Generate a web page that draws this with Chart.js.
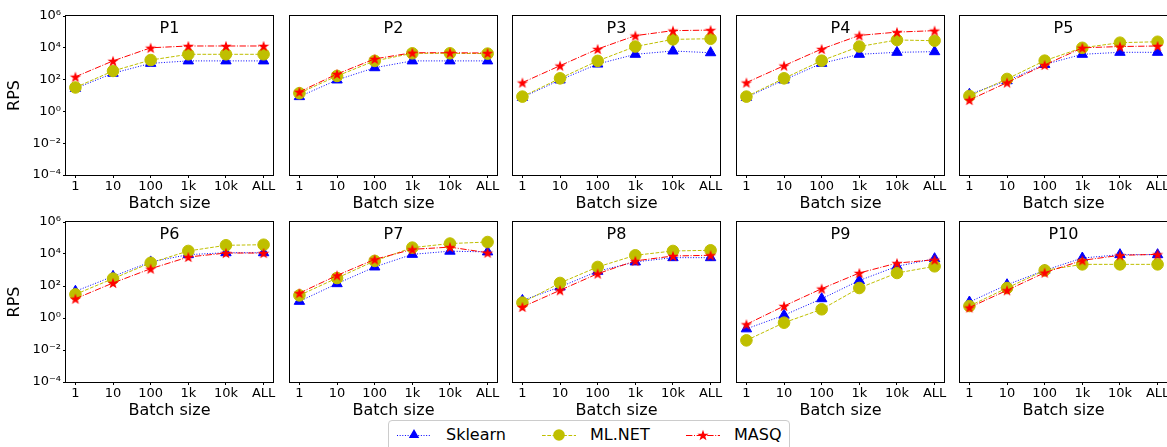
<!DOCTYPE html>
<html><head><meta charset="utf-8">
<script src="https://cdn.jsdelivr.net/npm/chart.js@4"></script>
<style>
html,body{margin:0;padding:0;background:#fff;}
body{width:1167px;height:447px;position:relative;overflow:hidden;font-family:"DejaVu Sans",sans-serif;}
canvas.p{position:absolute;}
#legend{position:absolute;left:388px;top:420px;width:402px;height:34px;border:1px solid #cccccc;border-radius:4px;background:#fff;box-sizing:border-box;}
#legend canvas{position:absolute;top:4px;}
#legend span{position:absolute;top:4px;font-size:16px;line-height:20px;color:#000;white-space:nowrap;}
</style></head><body>
<div id="legend"></div>
<script>
// ---- data ----
const batchLabels = ['1','10','100','1k','10k','ALL'];
const panelTitles = ['P1','P2','P3','P4','P5','P6','P7','P8','P9','P10'];
const yTickExponents = [-4,-2,0,2,4,6];
const seriesNames = ['Sklearn','ML.NET','MASQ'];
const sklearnRPS = [
  [28,250,1050,1500,1500,1500],
  [8.5,95,560,1500,1500,1500],
  [7.6,95,950,3900,6300,4900],
  [7.6,95,1050,3900,5200,5700],
  [12,85,900,3900,5200,5200],
  [47,400,3200,9100,12000,12000],
  [11,140,1550,9500,15000,13500],
  [12.6,87,830,3200,5900,5900],
  [0.21,1.5,16,220,1700,5100],
  [10,120,950,5600,9100,9100]
];
const mlnetRPS = [
  [32,350,1700,3900,3900,3900],
  [14,170,1500,4500,4500,4300],
  [8.5,120,1500,12000,34000,37000],
  [8.5,120,1550,12000,31000,28000],
  [9.4,110,1550,10000,21000,24000],
  [30,290,2800,15500,35000,38000],
  [26,315,3700,25000,45000,56000],
  [9.1,155,1550,8300,15500,17000],
  [0.04,0.51,3.5,75,650,1700],
  [5.6,75,950,2250,2250,2250]
];
const masqRPS = [
  [150,1500,10000,13000,13000,13000],
  [17,225,2000,4900,4900,4700],
  [65,750,8400,58000,120000,130000],
  [65,750,8400,60000,97000,120000],
  [5.2,65,830,10000,12000,13000],
  [16,155,1200,6500,11500,11500],
  [36,460,4600,19500,27000,12000],
  [4.9,54,590,3700,7500,8300],
  [0.40,5.6,68,650,2700,4400],
  [4.5,54,680,4000,8300,9500]
];
const seriesData = [sklearnRPS, mlnetRPS, masqRPS];

// ---- styles ----
const FONT = '"DejaVu Sans", sans-serif';
function makeStar(color, R){
  const c = document.createElement('canvas');
  const s = Math.ceil(R*2+2); c.width = s; c.height = s;
  const g = c.getContext('2d');
  g.translate(s/2, s/2 + R*0.1);
  g.beginPath();
  for (let i=0;i<10;i++){
    const r = i%2===0 ? R : R*0.4;
    const a = -Math.PI/2 + i*Math.PI/5;
    const px = r*Math.cos(a), py = r*Math.sin(a);
    if(i===0) g.moveTo(px,py); else g.lineTo(px,py);
  }
  g.closePath(); g.fillStyle = color; g.fill();
  return c;
}
const starImg = makeStar('#ff0000', 5.9);
const seriesStyles = [
  {color:'#0000ff', dash:[1,1.65], point:'triangle', radius:6},
  {color:'#bfbf00', dash:[3.7,1.6], point:'circle', radius:5.8},
  {color:'#ff0000', dash:[6.4,1.6,1,1.6], point:starImg, radius:6}
];

const colLefts = [66, 290, 513, 737, 960];
const rowTops = [16, 222];
const rowHeights = [159, 160];
const W = 207, T = 12, R = 12, B = 38;

const sup = {'-':'\u207B','0':'\u2070','1':'\u00B9','2':'\u00B2','3':'\u00B3','4':'\u2074','5':'\u2075','6':'\u2076','7':'\u2077','8':'\u2078','9':'\u2079'};
function powLabel(v){
  const e = Math.round(Math.log10(v));
  return '10' + String(e).split('').map(ch=>sup[ch]).join('');
}

const panelDecor = {
  id:'panelDecor',
  afterDraw(chart, args, opts){
    const {ctx, chartArea:a} = chart;
    ctx.save();
    ctx.strokeStyle = '#000'; ctx.lineWidth = 1;
    ctx.strokeRect(a.left-0.5, a.top-0.5, a.right-a.left+1, a.bottom-a.top+1);
    ctx.fillStyle = '#000'; ctx.font = '16px ' + FONT;
    ctx.textAlign = 'center'; ctx.textBaseline = 'middle';
    ctx.fillText(opts.title, (a.left+a.right)/2, a.top+13);
    ctx.restore();
  }
};

for (let p=0; p<10; p++){
  const row = Math.floor(p/5), col = p%5;
  const first = col===0;
  const L = first ? 66 : 20;
  const H = rowHeights[row];
  const cv = document.createElement('canvas');
  cv.className = 'p';
  cv.width = L + W + R; cv.height = T + H + B;
  cv.style.left = (colLefts[col] - L) + 'px';
  cv.style.top = (rowTops[row] - T) + 'px';
  cv.style.width = cv.width + 'px'; cv.style.height = cv.height + 'px';
  document.body.appendChild(cv);

  const datasets = seriesData.map((arr,k)=>{
    const st = seriesStyles[k];
    return {
      label: seriesNames[k],
      data: arr[p].map((v,i)=>({x:i, y:v})),
      borderColor: st.color, backgroundColor: st.color,
      borderWidth: 1, borderDash: st.dash,
      pointStyle: st.point, pointRadius: st.radius,
      pointBackgroundColor: st.color, pointBorderColor: st.color, pointBorderWidth: 1,
      order: 3-k, fill:false, tension:0, clip:false
    };
  });

  new Chart(cv, {
    type:'line',
    data:{datasets},
    options:{
      responsive:false, animation:false, devicePixelRatio:1,
      layout:{padding:{left:0, right:R, top:T, bottom:0}},
      plugins:{legend:{display:false}, tooltip:{enabled:false}, panelDecor:{title:panelTitles[p]}},
      scales:{
        x:{
          type:'linear', min:-0.25, max:5.25,
          afterBuildTicks: s => { s.ticks = batchLabels.map((_,i)=>({value:i})); },
          afterFit: s => { s.height = B; },
          ticks:{callback: v => batchLabels[v], font:{family:FONT, size:13}, color:'#000', padding:1, maxRotation:0, autoSkip:false},
          grid:{drawOnChartArea:false, drawTicks:true, tickLength:3, color:'#000'},
          border:{display:false},
          title:{display:true, text:'Batch size', font:{family:FONT, size:16}, color:'#000', padding:{top:0, bottom:0}}
        },
        y:{
          type:'logarithmic', min:1e-4, max:1e6,
          afterBuildTicks: s => { s.ticks = yTickExponents.map(e=>({value:Math.pow(10,e)})); },
          afterFit: s => { s.width = L; },
          ticks:{display:first, callback: v => powLabel(v), font:{family:FONT, size:13}, color:'#000', padding:2, autoSkip:false},
          grid:{display:first, drawOnChartArea:false, drawTicks:true, tickLength:3, color:'#000'},
          border:{display:false},
          title:{display:first, text:'RPS', font:{family:FONT, size:16}, color:'#000', padding:{top:5, bottom:0}}
        }
      }
    },
    plugins:[panelDecor]
  });
}

// ---- legend ----
const legend = document.getElementById('legend');
const legendIconCentres = [25, 170, 314];
const legendTextLefts = [57, 201, 345];
seriesNames.forEach((name,k)=>{
  const st = seriesStyles[k];
  const ic = document.createElement('canvas');
  ic.width = 36; ic.height = 20;
  ic.style.left = (legendIconCentres[k]-18) + 'px';
  legend.appendChild(ic);
  const g = ic.getContext('2d');
  g.strokeStyle = st.color; g.lineWidth = 1; g.setLineDash(st.dash);
  g.beginPath(); g.moveTo(1,10.5); g.lineTo(35,10.5); g.stroke();
  g.setLineDash([]); g.fillStyle = st.color;
  if (k===0){
    const r=6; g.beginPath();
    g.moveTo(18, 10-r); g.lineTo(18+r*0.866, 10+r*0.5); g.lineTo(18-r*0.866, 10+r*0.5); g.closePath(); g.fill();
  } else if (k===1){
    g.beginPath(); g.arc(18,10,5.8,0,Math.PI*2); g.fill();
  } else {
    g.drawImage(starImg, 18-starImg.width/2, 10-starImg.height/2);
  }
  const sp = document.createElement('span');
  sp.textContent = name;
  sp.style.left = legendTextLefts[k] + 'px';
  legend.appendChild(sp);
});
</script>
</body></html>
